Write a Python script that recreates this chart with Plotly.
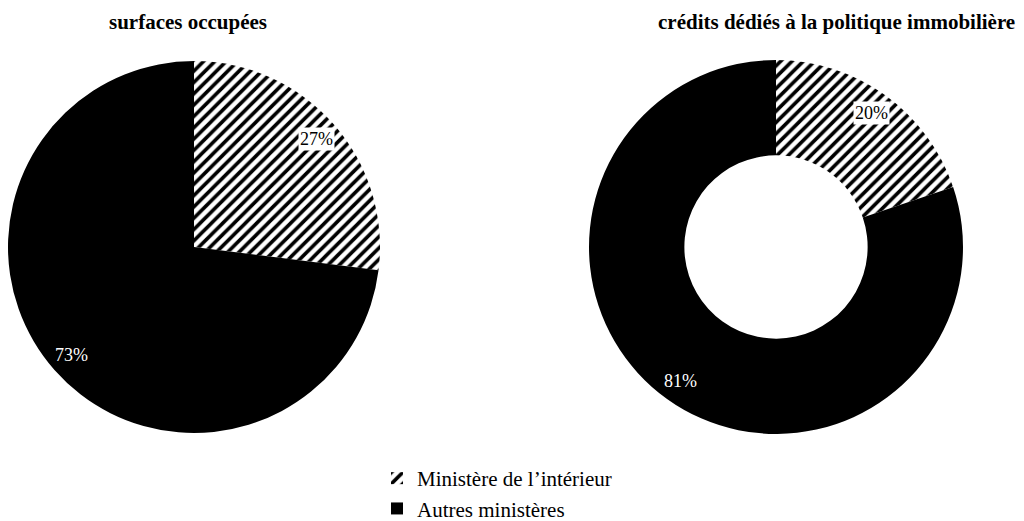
import math
import plotly.graph_objects as go

labels = ["Ministère de l’intérieur", "Autres ministères"]
surfaces = [27, 73]
credits = [20, 81]
titles = ["surfaces occupées", "crédits dédiés à la politique immobilière"]

FONT = "Liberation Serif"
W, H, OFF = 1016, 560, 8  # page is offset by the 8px body margin; bottom part falls below the window


def X(p):
    return (p - OFF) / W


def Y(p):
    return 1 - (p - OFF) / H


pattern = dict(shape=["/", ""], fgcolor="black", bgcolor=["white", "black"], size=8, solidity=0.45)

pies = [
    dict(values=surfaces, x=(8, 380), y=(60, 434), hole=0, legend=True),
    dict(values=credits, x=(589, 963), y=(60, 434), hole=0.49, legend=False),
]

fig = go.Figure()
for p in pies:
    fig.add_trace(go.Pie(
        labels=labels, values=p["values"], sort=False, direction="clockwise", rotation=0,
        hole=p["hole"],
        domain=dict(x=[X(p["x"][0]), X(p["x"][1])], y=[Y(p["y"][1]), Y(p["y"][0])]),
        marker=dict(colors=["white", "black"], pattern=pattern, line=dict(width=0)),
        textinfo="none", showlegend=p["legend"], hoverinfo="skip",
    ))
    # labels placed along each slice's mid-angle, derived from the values
    cx = (p["x"][0] + p["x"][1]) / 2
    cy = (p["y"][0] + p["y"][1]) / 2
    R = min(p["x"][1] - p["x"][0], p["y"][1] - p["y"][0]) / 2
    total = sum(p["values"])
    cum = 0
    for i, v in enumerate(p["values"]):
        mid = (cum + v / 2) / total * 2 * math.pi
        cum += v
        px = cx + 0.88 * R * math.sin(mid)
        py = cy - 0.88 * R * math.cos(mid)
        fig.add_annotation(
            text=f"{v}%", x=X(px), y=Y(py), xref="paper", yref="paper",
            xanchor="center", yanchor="middle", showarrow=False,
            font=dict(family=FONT, size=18, color="black" if i == 0 else "white"),
            bgcolor="white" if i == 0 else "rgba(0,0,0,0)", borderpad=1,
        )

fig.add_annotation(text="<b>" + titles[0] + "</b>", x=X(188), y=Y(22), xref="paper", yref="paper",
                   xanchor="center", yanchor="middle",
                   showarrow=False, font=dict(family=FONT, size=21, color="black"))
fig.add_annotation(text="<b>" + titles[1] + "</b>", x=X(836), y=Y(22), xref="paper", yref="paper",
                   xanchor="center", yanchor="middle",
                   showarrow=False, font=dict(family=FONT, size=21, color="black"))

fig.update_layout(
    width=W, height=H, margin=dict(l=0, r=0, t=0, b=0),
    paper_bgcolor="white", plot_bgcolor="white",
    legend=dict(x=X(377), y=Y(458), xanchor="left", yanchor="top",
                font=dict(family=FONT, size=21, color="black"), itemwidth=30, tracegroupgap=0),
)
fig.write_html("out.html")
